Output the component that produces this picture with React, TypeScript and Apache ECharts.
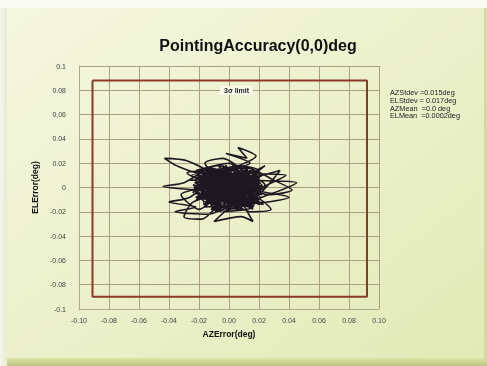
import React, { useEffect, useRef } from "react";
import * as echarts from "echarts";

const TITLE = "PointingAccuracy(0,0)deg";
const X_NAME = "AZError(deg)";
const Y_NAME = "ELError(deg)";
const AXIS_MIN = -0.1;
const AXIS_MAX = 0.1;
const AXIS_STEP = 0.02;
const STATS = ["AZStdev =0.015deg", "ELStdev = 0.017deg", "AZMean  =0.0 deg", "ELMean  =0.0002deg"];
const LIMIT_LABEL = "3\u03c3 limit";

// 3-sigma limit box corners (deg)
const LIMIT_AZ = [-0.091, 0.092, 0.092, -0.091, -0.091];
const LIMIT_EL = [0.088, 0.088, -0.090, -0.090, 0.088];

// pointing error trace (deg)
const AZ_ERR = [
  0.0, -0.018, 0.012, -0.022, 0.02, -0.01, 0.005, -0.025, 0.018, -0.015,
  0.024, -0.008, -0.03, -0.044, -0.02, 0.01, -0.012, 0.016, -0.004, 0.022,
  0.045, 0.02, -0.006, 0.014, -0.002, 0.012, 0.006, 0.018, 0.002, -0.02,
  -0.035, -0.043, -0.028, -0.012, -0.026, -0.04, -0.022, -0.036, -0.014, 0.004,
  -0.01, 0.008, 0.016, 0.01, 0.026, 0.04, 0.02, 0.038, 0.016, 0.024,
  0.008, -0.016, -0.004, -0.024, 0.006, -0.018, 0.014, -0.01, 0.02, 0.0,
  -0.022, 0.012, 0.03, 0.042, 0.026, 0.004, -0.02, -0.032, -0.014, 0.002,
  -0.006, 0.018, -0.012, 0.01, -0.016, -0.004, 0.01, -0.026, 0.002, -0.008,
  0.022, -0.002, -0.024, -0.03, -0.018, -0.002, 0.014, 0.028, 0.012, -0.01,
  -0.028, -0.006, 0.016, 0.034, 0.014, -0.014, 0.006, 0.02, -0.002, -0.02,
  -0.008, 0.008, -0.016, 0.004, 0.016, -0.006, 0.01, -0.012, 0.0, 0.018,
  0.0, -0.019, 0.015, -0.021, 0.009, -0.013, 0.019, -0.005, 0.011, -0.023,
  0.017, -0.009, 0.003, -0.017, 0.021, -0.011, 0.007, -0.001,
  -0.024, 0.022, -0.02, 0.018, -0.022, 0.02, -0.016, 0.023, -0.019, 0.015,
  -0.023, 0.021, -0.012, 0.019, -0.021, 0.013, -0.018, 0.022, -0.014, 0.017,
  -0.024, 0.02, -0.01, 0.016, -0.02, 0.024, -0.017, 0.012, -0.022, 0.019,
  -0.006, 0.021, -0.023, 0.014, -0.015, 0.02, -0.019, 0.01, -0.021, 0.023,
  -0.008, 0.018, -0.024, 0.016, -0.013, 0.022, -0.018, 0.008, -0.02, 0.017,
  -0.011, 0.021, -0.022, 0.013, -0.016, 0.019, -0.004, 0.015, -0.023, 0.02,
  -0.02, -0.016, -0.012, -0.008, -0.004, 0.0, 0.004, 0.008, 0.012, 0.016,
  0.02, 0.014, 0.006, -0.002, -0.01, -0.018, -0.014, -0.006, 0.002, 0.01,
  0.018, 0.012
];
const EL_ERR = [
  0.0, 0.006, -0.01, -0.004, 0.008, -0.016, 0.014, 0.01, -0.004, -0.012,
  0.002, 0.018, 0.004, 0.001, -0.002, 0.01, 0.004, -0.016, -0.02, -0.008,
  0.004, 0.006, 0.012, 0.02, 0.028, 0.024, 0.033, 0.026, 0.016, 0.012,
  0.018, 0.024, 0.022, 0.01, -0.008, -0.012, -0.016, -0.02, -0.022, -0.012,
  -0.028, -0.024, -0.028, -0.014, -0.012, -0.008, -0.002, 0.01, 0.012, 0.018,
  0.006, 0.016, -0.006, 0.002, -0.018, -0.01, 0.002, 0.008, -0.014, 0.02,
  0.014, 0.016, 0.006, -0.002, -0.006, 0.004, -0.018, -0.006, 0.0, -0.016,
  0.01, 0.004, -0.008, -0.006, 0.02, 0.024, 0.012, 0.006, 0.008, -0.014,
  0.01, -0.004, -0.012, -0.024, -0.026, -0.01, -0.02, -0.018, -0.002, 0.014,
  0.012, 0.002, 0.008, 0.014, -0.01, 0.006, 0.018, 0.014, 0.0, 0.008,
  -0.018, 0.0, -0.004, 0.01, -0.008, -0.008, 0.004, 0.012, -0.008, 0.0,
  0.004, -0.006, 0.012, 0.008, -0.012, 0.014, -0.01, 0.016, -0.016, -0.002,
  0.006, -0.02, 0.018, -0.008, 0.01, -0.014, 0.002, -0.004,
  0.002, -0.004, 0.01, -0.012, -0.008, 0.006, 0.014, -0.014, -0.002, 0.012,
  0.006, -0.008, -0.018, 0.01, 0.0, -0.016, 0.012, 0.002, -0.012, 0.014,
  -0.004, -0.01, 0.016, -0.018, 0.008, 0.0, -0.014, 0.015, -0.01, 0.008,
  -0.02, 0.004, 0.004, -0.016, 0.016, -0.006, -0.006, 0.016, 0.01, -0.002,
  -0.02, 0.01, -0.002, -0.014, 0.017, -0.006, 0.012, -0.019, 0.006, 0.012,
  -0.018, 0.004, -0.008, 0.016, -0.016, -0.01, 0.018, -0.016, 0.0, 0.006,
  0.012, -0.016, 0.016, -0.018, 0.017, -0.02, 0.018, -0.019, 0.016, -0.016,
  0.01, 0.014, -0.018, 0.018, -0.019, 0.014, -0.012, 0.017, -0.02, 0.017,
  -0.012, 0.0
];

const fmtY = (v: number) => (Math.abs(v) < 1e-9 ? "0" : String(+v.toFixed(2)));
const fmtX = (v: number) => (Math.abs(v) < 1e-9 ? "0.00" : v.toFixed(2));

export default function App() {
  const ref = useRef<HTMLDivElement>(null);
  useEffect(() => {
    if (!ref.current) return;
    const chart = echarts.init(ref.current, null, { renderer: "svg" });
    const trace = AZ_ERR.map((x, i) => [x, EL_ERR[i]]);
    const limit = LIMIT_AZ.map((x, i) => [x, LIMIT_EL[i]]);
    const font = "Liberation Sans, Arial, sans-serif";
    chart.setOption({
      animation: false,
      textStyle: { fontFamily: font },
      graphic: [
        { type: "rect", z: -10, silent: true, shape: { x: 0, y: 0, width: 487, height: 366 }, style: { fill: "#fafcf3" } },
        {
          type: "rect", z: -9, silent: true, shape: { x: 7, y: 8, width: 480, height: 352 },
          style: {
            fill: new echarts.graphic.LinearGradient(0, 0, 1, 1, [
              { offset: 0, color: "#f5f7e0" },
              { offset: 1, color: "#e2eab6" },
            ]),
          },
        },
        {
          type: "rect", z: -8, silent: true, shape: { x: 0, y: 8, width: 7, height: 358 },
          style: {
            fill: new echarts.graphic.LinearGradient(0, 0, 1, 0, [
              { offset: 0, color: "#f4f6ee" },
              { offset: 1, color: "#e6ebd0" },
            ]),
          },
        },
        {
          type: "rect", z: -8, silent: true, shape: { x: 7, y: 358, width: 480, height: 8 },
          style: {
            fill: new echarts.graphic.LinearGradient(0, 0, 0, 1, [
              { offset: 0, color: "#dde5a8" },
              { offset: 1, color: "#bcc47e" },
            ]),
          },
        },
        {
          type: "rect", z: -8, silent: true, shape: { x: 484, y: 8, width: 3, height: 352 },
          style: { fill: "#d3db9a" },
        },
        {
          type: "text", z: 10, left: 220, top: 86,
          style: {
            text: LIMIT_LABEL, fontSize: 7, fontWeight: "bold", fill: "#222", fontFamily: font,
            backgroundColor: "#f8f9ea", padding: [1, 4],
          },
        },
        {
          type: "text", z: 10, left: 390, top: 89,
          style: {
            text: STATS.join("\n"), fontSize: 7.3, lineHeight: 7.7, fill: "#222", fontFamily: font,
          },
        },
      ],
      title: {
        text: TITLE,
        left: 253,
        textAlign: "center",
        top: 32,
        textStyle: { fontSize: 16, fontWeight: "bold", color: "#111", fontFamily: font },
      },
      grid: { left: 79, top: 66, right: 108, bottom: 57 },
      xAxis: {
        type: "value",
        min: AXIS_MIN,
        max: AXIS_MAX,
        interval: AXIS_STEP,
        name: X_NAME,
        nameLocation: "middle",
        nameGap: 20,
        nameTextStyle: { fontSize: 8.5, fontWeight: "bold", color: "#111" },
        axisLine: { onZero: false, lineStyle: { color: "#b0a890" } },
        axisTick: { show: false },
        axisLabel: { fontSize: 7, color: "#444", margin: 8, formatter: fmtX },
        splitLine: { show: true, lineStyle: { color: "#aa9f80", width: 1 } },
      },
      yAxis: {
        type: "value",
        min: AXIS_MIN,
        max: AXIS_MAX,
        interval: AXIS_STEP,
        name: Y_NAME,
        nameLocation: "middle",
        nameGap: 36,
        nameTextStyle: { fontSize: 8.5, fontWeight: "bold", color: "#111" },
        axisLine: { onZero: false, show: true, lineStyle: { color: "#b0a890" } },
        axisTick: { show: false },
        axisLabel: { fontSize: 7, color: "#444", margin: 13, formatter: fmtY },
        splitLine: { show: true, lineStyle: { color: "#aa9f80", width: 1 } },
      },
      series: [
        {
          type: "line",
          data: limit,
          showSymbol: false,
          symbol: "none",
          lineStyle: { color: "#8a3b26", width: 2 },
          z: 3,
        },
        {
          type: "line",
          data: trace,
          showSymbol: false,
          symbol: "none",
          smooth: 0.25,
          lineStyle: { color: "#1d1722", width: 1.6 },
          z: 4,
        },
      ],
    });
    return () => chart.dispose();
  }, []);
  return <div ref={ref} style={{ position: "fixed", left: 0, top: 0, width: 487, height: 366 }} />;
}
